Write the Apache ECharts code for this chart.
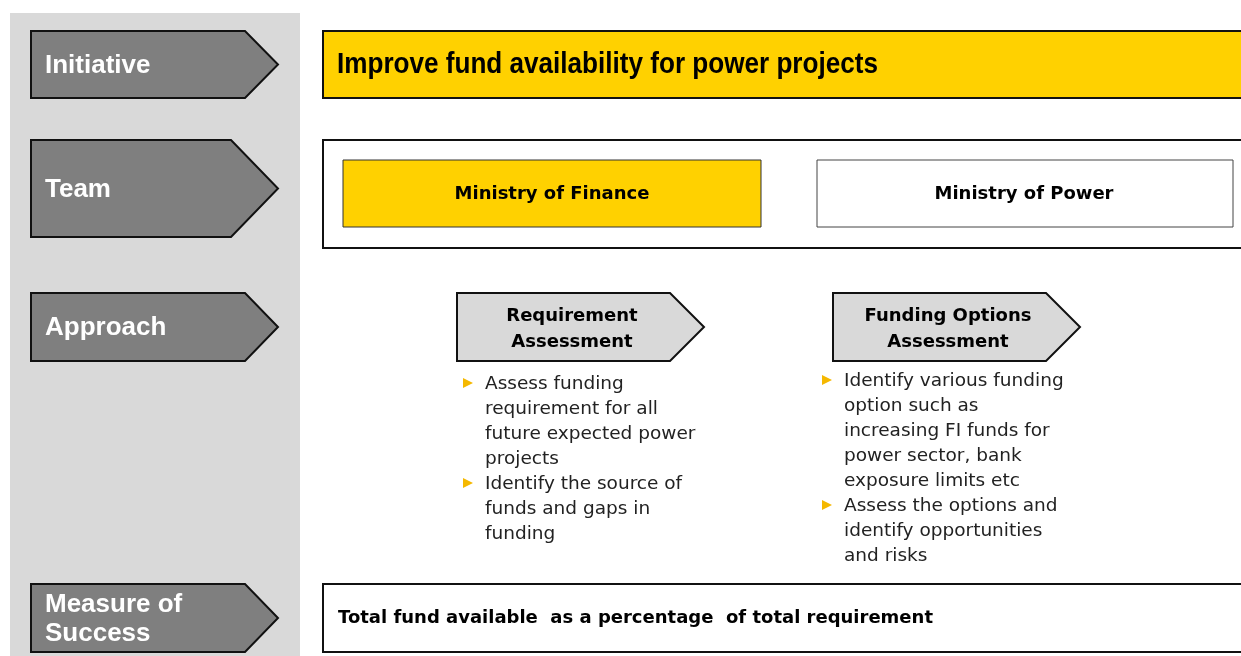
<!DOCTYPE html>
<html>
<head>
<meta charset="utf-8">
<script src="https://cdn.jsdelivr.net/npm/echarts@6/dist/echarts.min.js"></script>
<style>
  html, body { margin: 0; padding: 0; background: #fff; }
  #chart { width: 1241px; height: 656px; }
</style>
</head>
<body>
<div id="chart"></div>
<script>
// diagram text content
const rowLabels = ['Initiative', 'Team', 'Approach', 'Measure of\nSuccess'];
const initiative = 'Improve fund availability for power projects';
const teams = ['Ministry of Finance', 'Ministry of Power'];
const approaches = ['Requirement\nAssessment', 'Funding Options\nAssessment'];
const approachBullets = [
  [
    ['Assess funding', 'requirement for all', 'future expected power', 'projects'],
    ['Identify the source of', 'funds and gaps in', 'funding']
  ],
  [
    ['Identify various funding', 'option such as', 'increasing FI funds for', 'power sector, bank', 'exposure limits etc'],
    ['Assess the options and', 'identify opportunities', 'and risks']
  ]
];
const measure = 'Total fund available  as a percentage  of total requirement';

const YELLOW = '#ffd100';
const DARK = '#7f7f7f';
const LIGHT = '#d9d9d9';

function arrow(x0, y0, x1, y1, tip, fill) {
  return {
    type: 'polygon',
    shape: { points: [[x0, y0], [x1 - tip, y0], [x1, (y0 + y1) / 2], [x1 - tip, y1], [x0, y1]] },
    style: { fill: fill, stroke: '#111', lineWidth: 2 }
  };
}

function text(x, y, str, font, fill, align, lh) {
  return {
    type: 'text',
    style: {
      x: x, y: y, text: str, font: font, fill: fill || '#000',
      align: align || 'left', verticalAlign: 'middle', lineHeight: lh
    },
    z: 10
  };
}

const g = [];
// left grey panel
g.push({ type: 'rect', shape: { x: 10, y: 13, width: 290, height: 660 }, style: { fill: LIGHT } });

// left row arrows
const rowBoxes = [[31, 98, 33], [140, 237, 47], [293, 361, 33], [584, 652, 33]];
rowBoxes.forEach(function (b, i) {
  g.push(arrow(31, b[0], 278, b[1], b[2], DARK));
  g.push(text(45, (b[0] + b[1]) / 2 + 1, rowLabels[i], 'bold 26px "Liberation Sans", Arial', '#fff', 'left', 29));
});

// initiative
g.push({ type: 'rect', shape: { x: 323, y: 31, width: 1000, height: 67 }, style: { fill: YELLOW, stroke: '#111', lineWidth: 2 } });
const title = text(0, 0, initiative, 'bold 29px "Liberation Sans", Arial', '#000');
title.x = 337; title.y = 65; title.scaleX = 0.9;
g.push(title);

// team
g.push({ type: 'rect', shape: { x: 323, y: 140, width: 1000, height: 108 }, style: { fill: '#fff', stroke: '#111', lineWidth: 2 } });
g.push({ type: 'rect', shape: { x: 343, y: 160, width: 418, height: 67 }, style: { fill: YELLOW, stroke: '#333', lineWidth: 1 } });
g.push({ type: 'rect', shape: { x: 817, y: 160, width: 416, height: 67 }, style: { fill: '#fff', stroke: '#444', lineWidth: 1 } });
g.push(text(552, 194, teams[0], 'bold 18px "DejaVu Sans"', '#000', 'center'));
g.push(text(1024, 194, teams[1], 'bold 18px "DejaVu Sans"', '#000', 'center'));

// approach steps
const stepX = [457, 833];
const bulletX = [463, 822];
const bulletTextX = [485, 844];
const bulletStart = [383, 380];
stepX.forEach(function (x, i) {
  g.push(arrow(x, 293, x + 247, 361, 34, LIGHT));
  g.push(text(x + 115, 329, approaches[i], 'bold 18px "DejaVu Sans"', '#000', 'center', 26));
  let y = bulletStart[i];
  approachBullets[i].forEach(function (lines) {
    const bx = bulletX[i];
    g.push({
      type: 'polygon',
      shape: { points: [[bx, y - 5], [bx + 10, y], [bx, y + 5]] },
      style: { fill: '#f5b800' }
    });
    g.push(text(bulletTextX[i], y + (lines.length - 1) * 25 / 2 + 1, lines.join('\n'), '18.5px "DejaVu Sans"', '#222', 'left', 25));
    y += lines.length * 25;
  });
});

// measure of success
g.push({ type: 'rect', shape: { x: 323, y: 584, width: 1000, height: 68 }, style: { fill: '#fff', stroke: '#111', lineWidth: 2 } });
g.push(text(338, 618, measure, 'bold 18px "DejaVu Sans"', '#000'));

const chart = echarts.init(document.getElementById('chart'));
chart.setOption({ backgroundColor: '#fff', animation: false, graphic: g });
</script>
</body>
</html>
